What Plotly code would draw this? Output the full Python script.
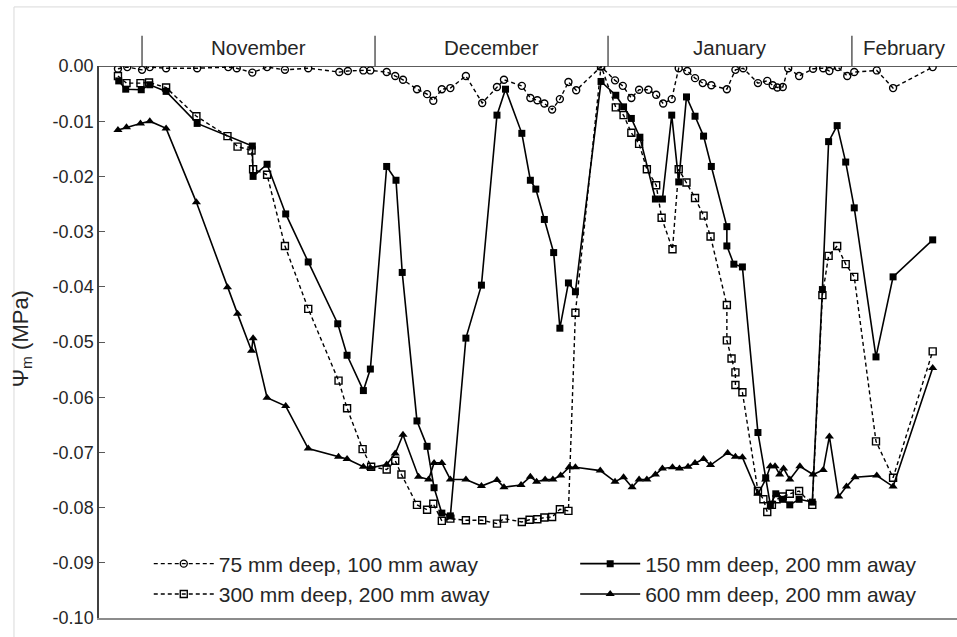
import plotly.graph_objects as go

# x = day (Nov 1 = 0), y = matric potential (MPa)
d75 = [-3.1,-1.9,0.0,1.0,3.1,7.1,11.1,12.2,14.2,16.1,18.4,21.4,25.4,26.5,28.5,29.4,31.5,32.6,33.6,35.4,36.7,37.5,38.6,39.7,41.7,43.8,45.7,46.6,48.9,50.0,50.9,51.8,52.8,53.8,54.9,55.9,59.1,60.9,61.9,63.0,64.0,65.2,66.2,67.1,68.2,69.1,70.2,71.2,72.2,73.3,75.3,76.4,77.4,79.3,80.5,81.2,81.8,82.5,83.2,84.6,86.4,87.7,88.5,89.6,90.8,91.7,94.6,96.7,101.8]
v75 = [-0.0005,-0.0002,-0.0007,-0.0002,-0.0004,-0.0004,-0.0002,-0.0004,-0.0012,-0.0002,-0.0007,-0.0004,-0.0011,-0.0009,-0.0008,-0.0008,-0.0011,-0.0018,-0.0025,-0.0042,-0.0051,-0.0063,-0.0042,-0.0040,-0.0018,-0.0067,-0.0038,-0.0025,-0.0036,-0.0058,-0.0062,-0.0068,-0.0079,-0.0060,-0.0029,-0.0044,-0.0001,-0.0026,-0.0036,-0.0058,-0.0043,-0.0043,-0.0052,-0.0068,-0.0060,-0.0004,-0.0009,-0.0022,-0.0031,-0.0035,-0.0042,-0.0007,-0.0004,-0.0031,-0.0027,-0.0035,-0.0039,-0.0038,-0.0004,-0.0018,-0.0005,-0.0004,-0.0009,-0.0002,-0.0018,-0.0011,-0.0008,-0.0040,-0.0002]

d150 = [-3.0,-2.1,-0.1,1.0,3.1,7.1,14.2,14.3,16.1,18.5,21.4,25.2,26.4,28.5,29.4,31.5,32.7,33.5,35.4,36.7,37.6,38.6,39.7,41.7,43.7,45.7,46.8,48.9,50.0,50.7,51.8,53.0,53.8,54.9,55.8,59.1,61.0,62.0,63.0,64.1,66.1,67.0,68.2,69.1,70.1,71.2,72.3,73.3,75.3,75.3,76.2,77.3,79.3,80.3,80.9,81.6,82.5,83.4,84.6,86.3,87.6,88.4,89.5,90.6,91.7,94.5,96.7,101.8]
v150 = [-0.0027,-0.0042,-0.0043,-0.0034,-0.0046,-0.0104,-0.0145,-0.0200,-0.0178,-0.0268,-0.0355,-0.0467,-0.0524,-0.0588,-0.0549,-0.0182,-0.0207,-0.0374,-0.0643,-0.0689,-0.0764,-0.0810,-0.0815,-0.0493,-0.0397,-0.0089,-0.0042,-0.0122,-0.0207,-0.0223,-0.0278,-0.0338,-0.0475,-0.0393,-0.0409,-0.0028,-0.0053,-0.0074,-0.0095,-0.0129,-0.0241,-0.0241,-0.0089,-0.0210,-0.0056,-0.0091,-0.0127,-0.0182,-0.0291,-0.0326,-0.0359,-0.0364,-0.0664,-0.0746,-0.0795,-0.0775,-0.0785,-0.0795,-0.0785,-0.0790,-0.0405,-0.0137,-0.0108,-0.0174,-0.0257,-0.0527,-0.0382,-0.0315]

d300 = [-3.1,-2.0,-0.2,0.9,3.1,7.0,11.0,12.3,14.1,14.3,16.1,18.4,21.4,25.3,26.4,28.4,29.5,31.5,32.6,33.4,35.4,36.7,37.5,38.6,39.7,41.7,43.8,45.7,46.6,48.9,49.9,50.9,51.8,52.8,53.8,54.9,55.8,59.1,61.0,62.0,63.0,64.0,65.0,66.2,66.9,68.3,69.1,70.1,71.2,72.3,73.2,75.3,75.3,75.9,76.4,76.4,77.3,79.3,80.0,80.5,81.1,81.7,82.5,83.4,84.6,86.3,87.6,88.4,89.5,90.6,91.7,94.5,96.7,101.8]
v300 = [-0.0018,-0.0031,-0.0031,-0.0030,-0.0039,-0.0091,-0.0127,-0.0146,-0.0153,-0.0187,-0.0197,-0.0326,-0.0440,-0.0570,-0.0620,-0.0694,-0.0726,-0.0731,-0.0715,-0.0740,-0.0795,-0.0804,-0.0793,-0.0824,-0.0820,-0.0823,-0.0823,-0.0829,-0.0820,-0.0826,-0.0822,-0.0821,-0.0818,-0.0817,-0.0803,-0.0806,-0.0447,0.0000,-0.0075,-0.0089,-0.0121,-0.0141,-0.0187,-0.0216,-0.0275,-0.0332,-0.0187,-0.0211,-0.0239,-0.0271,-0.0309,-0.0433,-0.0497,-0.0530,-0.0555,-0.0578,-0.0591,-0.0770,-0.0785,-0.0808,-0.0795,-0.0785,-0.0780,-0.0775,-0.0770,-0.0795,-0.0415,-0.0344,-0.0326,-0.0359,-0.0382,-0.0680,-0.0746,-0.0517]

d600 = [-3.1,-2.0,-0.2,1.0,3.1,7.0,11.0,12.3,14.1,14.3,16.1,18.5,21.4,25.3,26.4,28.5,29.4,31.5,32.6,33.6,35.6,36.9,37.6,38.6,39.7,41.7,43.7,45.7,46.6,48.8,50.0,50.8,51.9,52.9,53.9,55.0,55.8,59.0,60.9,62.0,63.1,64.0,65.0,66.1,67.0,68.3,69.2,70.3,71.2,72.3,73.2,75.4,76.4,77.3,79.3,80.3,80.9,81.5,82.1,82.6,83.4,84.7,86.4,87.7,88.5,89.7,90.7,91.8,94.6,96.7,101.8]
v600 = [-0.0116,-0.0111,-0.0104,-0.0100,-0.0113,-0.0247,-0.0401,-0.0449,-0.0516,-0.0493,-0.0601,-0.0616,-0.0693,-0.0708,-0.0712,-0.0726,-0.0728,-0.0722,-0.0702,-0.0668,-0.0744,-0.0749,-0.0719,-0.0719,-0.0749,-0.0749,-0.0761,-0.0750,-0.0763,-0.0759,-0.0744,-0.0753,-0.0749,-0.0749,-0.0742,-0.0727,-0.0727,-0.0733,-0.0753,-0.0745,-0.0763,-0.0749,-0.0749,-0.0740,-0.0729,-0.0727,-0.0729,-0.0726,-0.0719,-0.0712,-0.0723,-0.0701,-0.0708,-0.0709,-0.0775,-0.0749,-0.0725,-0.0725,-0.0740,-0.0729,-0.0749,-0.0725,-0.0740,-0.0732,-0.0671,-0.0780,-0.0762,-0.0745,-0.0742,-0.0762,-0.0547]

month_names = ["November", "December", "January", "February"]
month_starts = [0, 30, 60, 91.4]
x_range = [-5.54, 104.93]
y_ticks = [0.0, -0.01, -0.02, -0.03, -0.04, -0.05, -0.06, -0.07, -0.08, -0.09, -0.10]
y_ticktext = ["0.00", "-0.01", "-0.02", "-0.03", "-0.04", "-0.05", "-0.06", "-0.07", "-0.08", "-0.09", "-0.10"]

FONT = "Liberation Sans, Arial, sans-serif"
INK = "#000000"
TXT = "#262626"

fig = go.Figure()
fig.add_trace(go.Scatter(x=d75, y=v75, mode="lines+markers", name="75 mm deep, 100 mm away", legend="legend",
    line=dict(color=INK, width=1.4, dash="4px,3px"),
    marker=dict(symbol="circle-open", size=7, color=INK, line=dict(width=1.4, color=INK))))
fig.add_trace(go.Scatter(x=d150, y=v150, mode="lines+markers", name="150 mm deep, 200 mm away", legend="legend2",
    line=dict(color=INK, width=1.6),
    marker=dict(symbol="square", size=7, color=INK)))
fig.add_trace(go.Scatter(x=d300, y=v300, mode="lines+markers", name="300 mm deep, 200 mm away", legend="legend",
    line=dict(color=INK, width=1.4, dash="4px,3px"),
    marker=dict(symbol="square-open", size=7, color=INK, line=dict(width=1.4, color=INK))))
fig.add_trace(go.Scatter(x=d600, y=v600, mode="lines+markers", name="600 mm deep, 200 mm away", legend="legend2",
    line=dict(color=INK, width=1.6),
    marker=dict(symbol="triangle-up", size=8, color=INK)))

shapes = []
shapes.append(dict(type="line", xref="paper", yref="y", x0=0, x1=1, y0=0, y1=0,
                   line=dict(color="#262626", width=1.5), layer="above"))
for ms in month_starts:
    shapes.append(dict(type="line", xref="x", yref="paper", x0=ms, x1=ms, y0=1.0, y1=1.055,
                       line=dict(color="#404040", width=1.3)))
shapes.append(dict(type="line", xref="paper", yref="paper", x0=-0.0991, x1=-0.0991, y0=-0.05, y1=1.107,
                   line=dict(color="#d9d9d9", width=1)))
shapes.append(dict(type="line", xref="paper", yref="paper", x0=-0.0991, x1=1.01, y0=1.107, y1=1.107,
                   line=dict(color="#d9d9d9", width=1)))

ann = []
bounds = month_starts + [x_range[1]]
for i, name in enumerate(month_names):
    ann.append(dict(x=(bounds[i] + bounds[i + 1]) / 2, y=1.034, xref="x", yref="paper",
                    text=name, showarrow=False, font=dict(family=FONT, size=20.5, color=TXT),
                    xanchor="center", yanchor="middle"))
ann.append(dict(x=-0.0897, y=0.505, xref="paper", yref="paper", text="Ψ<sub>m</sub> (MPa)",
                textangle=-90, showarrow=False, font=dict(family=FONT, size=22, color=TXT),
                xanchor="center", yanchor="middle"))

leg_common = dict(orientation="v", xanchor="left", yanchor="top", bgcolor="rgba(0,0,0,0)",
                  font=dict(family=FONT, size=21, color=TXT), tracegroupgap=0, itemwidth=60,
                  traceorder="normal")

fig.update_layout(
    width=957, height=637,
    margin=dict(l=99, r=0, t=66, b=19),
    paper_bgcolor="white", plot_bgcolor="white",
    font=dict(family=FONT, size=18, color=TXT),
    showlegend=True,
    legend=dict(x=0.058, y=0.135, **leg_common),
    legend2=dict(x=0.555, y=0.135, **leg_common),
    xaxis=dict(range=x_range, showgrid=False, zeroline=False, showticklabels=False, ticks="",
               showline=True, linecolor="#8c8c8c", linewidth=1.5),
    yaxis=dict(range=[-0.10, 0.0], tickvals=y_ticks, ticktext=y_ticktext, showgrid=False, zeroline=False,
               ticks="inside", ticklen=6, tickcolor="#595959", tickwidth=1.3,
               showline=True, linecolor="#404040", linewidth=1.5,
               tickfont=dict(family=FONT, size=18, color=TXT)),
    shapes=shapes, annotations=ann,
)
fig.write_html("out.html")
